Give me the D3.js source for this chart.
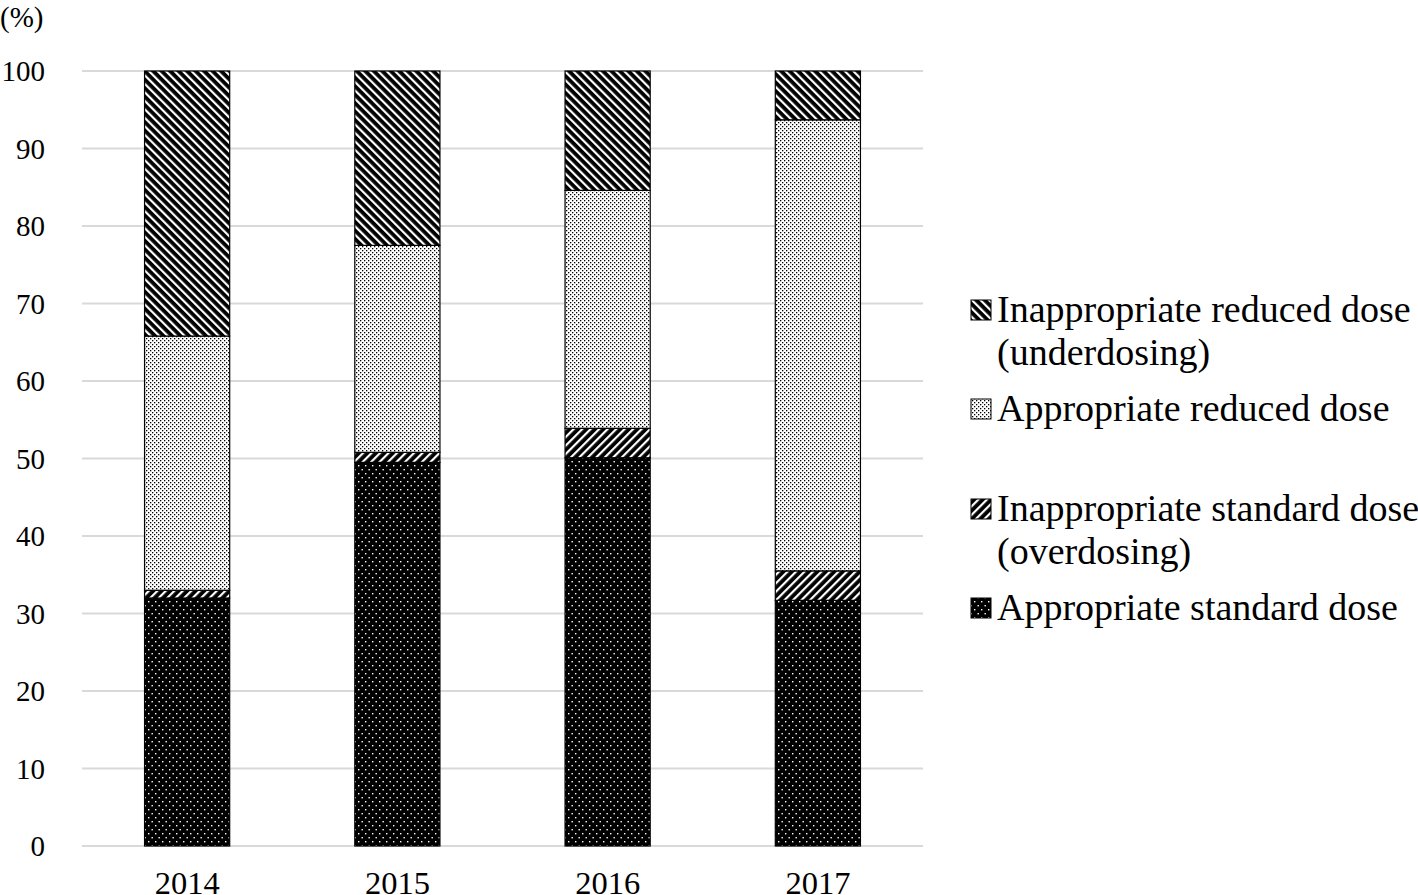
<!DOCTYPE html>
<html>
<head>
<meta charset="utf-8">
<script src="https://cdn.jsdelivr.net/npm/d3@7"></script>
<style>
body { margin: 0; background: #fff; }
svg { font-family: "Liberation Serif", "Times New Roman", serif; }
</style>
</head>
<body>
<script>
const years = ["2014", "2015", "2016", "2017"];
const seriesNames = ["Appropriate standard dose", "Inappropriate standard dose (overdosing)", "Appropriate reduced dose", "Inappropriate reduced dose (underdosing)"];
const seriesKeys = ["std", "over", "red", "under"];
const appropriateStandard = [32.0, 49.5, 50.1, 31.7];
const overdosing = [1.0, 1.3, 3.8, 3.8];
const appropriateReduced = [32.8, 26.7, 30.7, 58.2];
const underdosing = [34.2, 22.5, 15.4, 6.3];
const yTicks = [0, 10, 20, 30, 40, 50, 60, 70, 80, 90, 100];

const rows = years.map((y, i) => ({
  year: y,
  std: appropriateStandard[i],
  over: overdosing[i],
  red: appropriateReduced[i],
  under: underdosing[i]
}));

const W = 1418, H = 895;
const svg = d3.select("body").append("svg").attr("width", W).attr("height", H);

const defs = svg.append("defs");
// dotted black (appropriate standard)
let p = defs.append("pattern").attr("id", "p-std").attr("patternUnits", "userSpaceOnUse")
  .attr("width", 7).attr("height", 8);
p.append("rect").attr("width", 7).attr("height", 8).attr("fill", "#000");
p.append("rect").attr("x", 1).attr("y", 1).attr("width", 1.4).attr("height", 1.4).attr("fill", "#fff");
p.append("rect").attr("x", 4.5).attr("y", 5).attr("width", 1.4).attr("height", 1.4).attr("fill", "#fff");
// light dotted (appropriate reduced)
p = defs.append("pattern").attr("id", "p-red").attr("patternUnits", "userSpaceOnUse")
  .attr("width", 4).attr("height", 4);
p.append("rect").attr("width", 4).attr("height", 4).attr("fill", "#fff");
p.append("rect").attr("x", 0).attr("y", 0).attr("width", 1.3).attr("height", 1.3).attr("fill", "#000");
p.append("rect").attr("x", 2).attr("y", 2).attr("width", 1.3).attr("height", 1.3).attr("fill", "#000");
// forward diagonal (overdosing)
p = defs.append("pattern").attr("id", "p-over").attr("patternUnits", "userSpaceOnUse")
  .attr("width", 6).attr("height", 6).attr("patternTransform", "rotate(45)");
p.append("rect").attr("width", 6).attr("height", 6).attr("fill", "#000");
p.append("rect").attr("width", 2.2).attr("height", 6).attr("fill", "#fff");
// backward diagonal (underdosing)
p = defs.append("pattern").attr("id", "p-under").attr("patternUnits", "userSpaceOnUse")
  .attr("width", 6).attr("height", 6).attr("patternTransform", "rotate(-45)");
p.append("rect").attr("width", 6).attr("height", 6).attr("fill", "#000");
p.append("rect").attr("width", 2.2).attr("height", 6).attr("fill", "#fff");

const x = d3.scaleBand().domain(years).range([82, 923]).paddingInner(0.595).paddingOuter(0.2975);
const y = d3.scaleLinear().domain([0, 100]).range([846, 71]);

// gridlines
svg.append("g").selectAll("line").data(yTicks).join("line")
  .attr("x1", 82).attr("x2", 923)
  .attr("y1", d => y(d)).attr("y2", d => y(d))
  .attr("stroke", "#d9d9d9").attr("stroke-width", 2);

// y tick labels
svg.append("g").selectAll("text").data(yTicks).join("text")
  .attr("x", 45).attr("y", d => y(d) + 10)
  .attr("text-anchor", "end").attr("font-size", 29)
  .text(d => d);

svg.append("text").attr("x", 0).attr("y", 27).attr("font-size", 29).text("(%)");

// bars
const stack = d3.stack().keys(seriesKeys)(rows);
svg.append("g").selectAll("g").data(stack).join("g")
  .attr("fill", d => `url(#p-${d.key})`)
  .selectAll("rect").data(d => d).join("rect")
  .attr("x", d => x(d.data.year))
  .attr("width", x.bandwidth())
  .attr("y", d => y(d[1]))
  .attr("height", d => y(d[0]) - y(d[1]))
  .attr("stroke", "#000").attr("stroke-width", 1.2);

// x labels
svg.append("g").selectAll("text").data(years).join("text")
  .attr("x", d => x(d) + x.bandwidth() / 2).attr("y", 894)
  .attr("text-anchor", "middle").attr("font-size", 32.5)
  .text(d => d);

// legend
const legend = [
  { key: "under", lines: ["Inappropriate reduced dose", "(underdosing)"], y: 322 },
  { key: "red", lines: ["Appropriate reduced dose"], y: 421 },
  { key: "over", lines: ["Inappropriate standard dose", "(overdosing)"], y: 521 },
  { key: "std", lines: ["Appropriate standard dose"], y: 620 }
];
const lg = svg.append("g").selectAll("g").data(legend).join("g");
lg.append("rect")
  .attr("x", 971).attr("y", d => d.y - 22).attr("width", 20).attr("height", 20)
  .attr("fill", d => `url(#p-${d.key})`).attr("stroke", "#000").attr("stroke-width", 1);
lg.append("text").attr("font-size", 38)
  .selectAll("tspan").data(d => d.lines.map((t, i) => ({ t, i, y: d.y }))).join("tspan")
  .attr("x", 997).attr("y", d => d.y + d.i * 43)
  .text(d => d.t);
</script>
</body>
</html>
